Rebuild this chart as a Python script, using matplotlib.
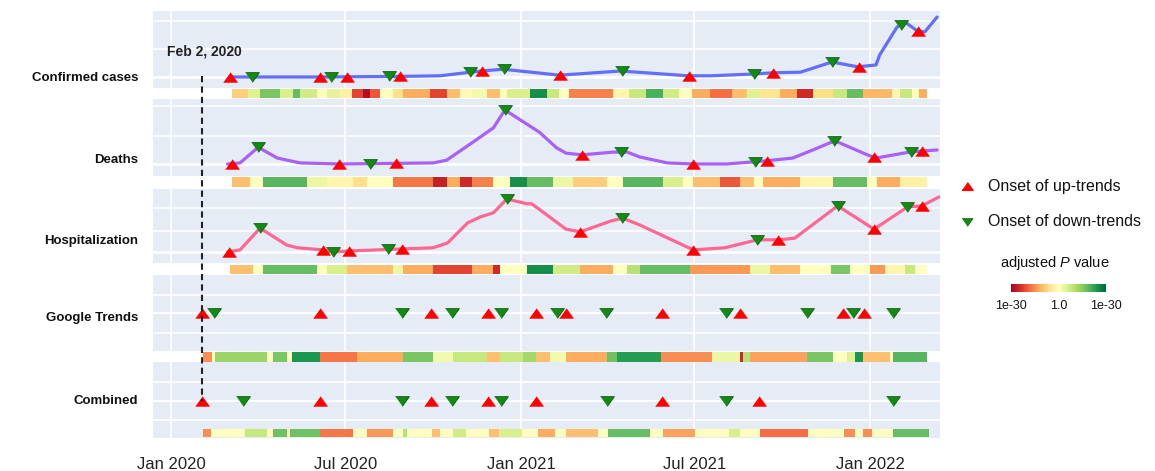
import numpy as np
import pandas as pd
import matplotlib
matplotlib.use("Agg")
import matplotlib.pyplot as plt
import matplotlib.dates as mdates
from matplotlib.lines import Line2D
from matplotlib.transforms import blended_transform_factory
from matplotlib.cm import ScalarMappable
from matplotlib.colors import Normalize

plt.rcParams['font.family'] = ['Liberation Sans', 'DejaVu Sans']
plt.rcParams['mathtext.fontset'] = 'custom'
plt.rcParams['mathtext.rm'] = 'Liberation Sans'
plt.rcParams['mathtext.it'] = 'Liberation Sans:italic'

# ---- data (values normalised to each series' peak) ----
conf_dates = ['2020-03-02', '2020-06-05', '2020-08-27', '2020-10-08', '2020-11-09', '2020-11-21',
              '2020-12-13', '2021-02-10', '2021-04-15', '2021-06-25', '2021-07-18', '2021-09-01',
              '2021-09-21', '2021-10-20', '2021-11-22', '2021-12-19', '2022-01-07', '2022-01-11',
              '2022-01-29', '2022-02-06', '2022-02-19', '2022-02-27', '2022-03-12']
conf_vals = [0.0, 0.0, 0.01, 0.02, 0.08, 0.10, 0.13, 0.03, 0.10, 0.02, 0.02, 0.05,
             0.07, 0.08, 0.25, 0.17, 0.20, 0.37, 0.83, 0.92, 0.77, 0.75, 1.0]

deaths_dates = ['2020-02-29', '2020-03-13', '2020-04-01', '2020-04-21', '2020-05-15', '2020-06-26',
                '2020-10-01', '2020-10-15', '2020-11-12', '2020-12-03', '2020-12-15', '2021-01-20',
                '2021-02-07', '2021-02-17', '2021-03-06', '2021-04-07', '2021-04-22', '2021-05-05',
                '2021-06-03', '2021-06-30', '2021-08-04', '2021-09-15', '2021-10-12', '2021-11-02',
                '2021-11-25', '2021-12-29', '2022-01-07', '2022-02-11', '2022-02-24', '2022-03-12']
deaths_vals = [0.0, 0.02, 0.31, 0.11, 0.02, 0.0, 0.02, 0.07, 0.41, 0.67, 1.0, 0.59,
               0.30, 0.20, 0.17, 0.22, 0.22, 0.13, 0.02, 0.0, 0.0, 0.06, 0.11, 0.26,
               0.43, 0.17, 0.11, 0.22, 0.24, 0.26]

hosp_dates = ['2020-02-29', '2020-03-13', '2020-04-03', '2020-05-01', '2020-05-12', '2020-06-08',
              '2020-06-18', '2020-07-06', '2020-10-01', '2020-10-16', '2020-11-06', '2020-11-19',
              '2020-12-03', '2020-12-17', '2021-01-07', '2021-01-12', '2021-02-17', '2021-03-04',
              '2021-04-04', '2021-04-17', '2021-05-05', '2021-06-30', '2021-08-02', '2021-09-05',
              '2021-09-27', '2021-10-14', '2021-11-28', '2022-01-05', '2022-02-09', '2022-02-24',
              '2022-03-14']
hosp_vals = [0.0, 0.04, 0.45, 0.13, 0.08, 0.04, 0.0, 0.02, 0.08, 0.17, 0.55, 0.66,
             0.74, 1.0, 0.91, 0.91, 0.43, 0.38, 0.58, 0.64, 0.51, 0.04, 0.08, 0.23,
             0.23, 0.26, 0.87, 0.43, 0.85, 0.87, 1.04]

# onsets of up / down trends
conf_up = ['2020-03-02', '2020-06-05', '2020-07-03', '2020-08-27', '2020-11-21', '2021-02-11',
           '2021-06-25', '2021-09-21', '2021-12-20', '2022-02-20']
conf_down = ['2020-03-26', '2020-06-16', '2020-08-16', '2020-11-09', '2020-12-14', '2021-04-16',
             '2021-09-01', '2021-11-22', '2022-02-02']
deaths_up = ['2020-03-05', '2020-06-24', '2020-08-23', '2021-03-06', '2021-06-30', '2021-09-15',
             '2022-01-05', '2022-02-24']
deaths_down = ['2020-04-01', '2020-07-27', '2020-12-15', '2021-04-15', '2021-09-03', '2021-11-24',
               '2022-02-13']
hosp_up = ['2020-03-01', '2020-06-08', '2020-07-05', '2020-08-29', '2021-03-04', '2021-06-30',
           '2021-09-27', '2022-01-05', '2022-02-24']
hosp_down = ['2020-04-03', '2020-06-18', '2020-08-15', '2020-12-17', '2021-04-16', '2021-09-05',
             '2021-11-28', '2022-02-09']
google_up = ['2020-02-02', '2020-06-05', '2020-09-29', '2020-11-27', '2021-01-17', '2021-02-17',
             '2021-05-28', '2021-08-18', '2021-12-04', '2021-12-26']
google_down = ['2020-02-15', '2020-08-29', '2020-10-21', '2020-12-11', '2021-02-08', '2021-03-31',
               '2021-08-03', '2021-10-27', '2021-12-14', '2022-01-25']
comb_up = ['2020-02-02', '2020-06-05', '2020-09-29', '2020-11-27', '2021-01-17', '2021-05-28',
           '2021-09-07']
comb_down = ['2020-03-16', '2020-08-29', '2020-10-21', '2020-12-11', '2021-04-01', '2021-08-03',
             '2022-01-25']

# signed -log10(adjusted P) strips: segment start dates, value; last date = end
conf_strip_dates = ['2020-03-05', '2020-03-21', '2020-04-03', '2020-04-24', '2020-05-07', '2020-05-15',
                    '2020-06-02', '2020-06-12', '2020-06-26', '2020-07-08', '2020-07-20', '2020-07-27',
                    '2020-08-06', '2020-08-20', '2020-08-30', '2020-09-28', '2020-10-15', '2020-10-29',
                    '2020-11-11', '2020-11-26', '2020-12-10', '2020-12-17', '2021-01-10', '2021-01-28',
                    '2021-02-10', '2021-02-20', '2021-04-07', '2021-04-24', '2021-05-12', '2021-05-29',
                    '2021-06-15', '2021-06-29', '2021-07-17', '2021-08-10', '2021-08-25', '2021-09-08',
                    '2021-09-29', '2021-10-16', '2021-11-02', '2021-11-23', '2021-12-08', '2021-12-24',
                    '2022-01-24', '2022-02-01', '2022-02-14', '2022-02-21', '2022-03-01']
conf_strip_vals = [-8, 5, 16, 6, 18, 7, 0, 4, -3, -22, -28, -20, 0, -6, -12, -22, -10, -1, 2, -10,
                   0, 6, 25, 8, 0, -16, -2, 8, 20, 7, 0, -12, -18, -10, 5, -5, -12, -25, -6, 8,
                   18, -11, -2, 8, 0, -12]

deaths_strip_dates = ['2020-03-05', '2020-03-23', '2020-04-06', '2020-05-22', '2020-06-12', '2020-07-09',
                      '2020-07-24', '2020-08-20', '2020-10-01', '2020-10-15', '2020-10-29', '2020-11-11',
                      '2020-12-03', '2020-12-20', '2021-01-07', '2021-02-03', '2021-02-24', '2021-04-01',
                      '2021-04-18', '2021-05-29', '2021-06-19', '2021-06-30', '2021-07-28', '2021-08-18',
                      '2021-09-01', '2021-09-11', '2021-10-20', '2021-11-23', '2021-12-29', '2022-01-08',
                      '2022-02-01', '2022-03-01']
deaths_strip_vals = [-10, 0, 19, 3, -2, -6, 0, -17, -26, -12, -25, -16, 0, 25, 18, 3, -8, 0, 19, 6,
                     0, -10, -20, -10, 0, -12, -2, 18, 0, -12, -3]

hosp_strip_dates = ['2020-03-03', '2020-03-27', '2020-04-06', '2020-06-02', '2020-06-12', '2020-07-03',
                    '2020-08-20', '2020-08-30', '2020-10-01', '2020-11-11', '2020-12-03', '2020-12-10',
                    '2021-01-07', '2021-02-03', '2021-03-04', '2021-04-07', '2021-04-22', '2021-05-05',
                    '2021-06-27', '2021-08-28', '2021-09-18', '2021-10-20', '2021-11-21', '2021-12-11',
                    '2022-01-01', '2022-01-16', '2022-02-06', '2022-02-17', '2022-03-01']
hosp_strip_vals = [-10, 0, 18, 0, 6, -10, 3, -12, -22, -12, -25, 0, 25, 7, -12, 0, 10, 18, -14, 3,
                   -10, 0, 16, 0, -14, -2, 8, 0]

google_strip_dates = ['2020-02-03', '2020-02-13', '2020-02-16', '2020-04-10', '2020-04-16', '2020-05-01',
                      '2020-05-06', '2020-06-05', '2020-07-13', '2020-08-30', '2020-10-01', '2020-10-22',
                      '2020-11-26', '2020-12-10', '2021-01-03', '2021-01-17', '2021-01-31', '2021-02-17',
                      '2021-04-01', '2021-04-11', '2021-05-27', '2021-07-20', '2021-08-18', '2021-08-21',
                      '2021-08-28', '2021-10-27', '2021-11-23', '2021-12-08', '2021-12-16', '2021-12-24',
                      '2022-01-22', '2022-01-25', '2022-03-01']
google_strip_vals = [-15, 0, 13, 0, 16, 0, 24, -17, -12, 16, 2, 8, -10, 8, 12, -10, 2, -12, 17, 23,
                     -15, 3, -25, 10, -13, 16, 0, 5, 24, -10, 0, 19]

comb_strip_dates = ['2020-02-03', '2020-02-12', '2020-03-18', '2020-04-10', '2020-04-17', '2020-05-01',
                    '2020-05-04', '2020-06-05', '2020-07-09', '2020-07-24', '2020-08-20', '2020-08-30',
                    '2020-09-04', '2020-09-30', '2020-10-08', '2020-10-22', '2020-11-04', '2020-11-28',
                    '2020-12-09', '2021-01-02', '2021-01-19', '2021-02-05', '2021-02-17', '2021-03-22',
                    '2021-04-02', '2021-05-16', '2021-05-29', '2021-07-02', '2021-08-06', '2021-08-18',
                    '2021-09-08', '2021-10-28', '2021-12-05', '2021-12-16', '2021-12-24', '2022-01-03',
                    '2022-01-25', '2022-03-03']
comb_strip_vals = [-15, 0, 8, 0, 17, 0, 17, -17, 0, -14, 0, 10, 0, -10, 0, 7, 0, -10, 6, 0,
                   -12, 0, -10, 0, 18, 0, -13, 0, 6, 0, -18, 0, -15, 0, -15, 0, 18]

row_labels = ['Confirmed cases', 'Deaths', 'Hospitalization', 'Google Trends', 'Combined']
xtick_dates = ['2020-01-01', '2020-07-01', '2021-01-01', '2021-07-01', '2022-01-01']
xtick_labels = ['Jan 2020', 'Jul 2020', 'Jan 2021', 'Jul 2021', 'Jan 2022']


def dn(d):
    return mdates.date2num(pd.to_datetime(d))


W, H = 1155, 471
fig = plt.figure(figsize=(W / 100, H / 100), dpi=100)

BG = '#E5ECF6'
UP_C, DOWN_C, DOWN_EDGE = '#FF0000', '#138A13', '#0B5C0B'
up_marker = [(-1, -0.7), (1, -0.7), (0, 0.7)]
down_marker = [(-1, 0.7), (1, 0.7), (0, -0.7)]
x0, x1 = dn('2019-12-13'), dn('2022-03-15')
norm = Normalize(-30, 30)

# layout in pixels: top, bottom, zero line, px per unit, gridlines, white band, strip
panels = [
    dict(top=11, bot=99, zero=77, unit=60, grid=[21, 49], band=(88, 99), strip=(89, 98),
         line=(conf_dates, conf_vals, '#636EFA'), up=conf_up, down=conf_down,
         sd=conf_strip_dates, sv=conf_strip_vals, ly=78),
    dict(top=99, bot=189, zero=164, unit=54, grid=[106, 136], band=(176, 189), strip=(177, 187),
         line=(deaths_dates, deaths_vals, '#A860F5'), up=deaths_up, down=deaths_down,
         sd=deaths_strip_dates, sv=deaths_strip_vals, ly=160),
    dict(top=189, bot=275, zero=252, unit=53, grid=[208, 231], band=(263, 275), strip=(265, 274),
         line=(hosp_dates, hosp_vals, '#FF6692'), up=hosp_up, down=hosp_down,
         sd=hosp_strip_dates, sv=hosp_strip_vals, ly=241),
    dict(top=275, bot=362, zero=313, unit=20, grid=[295, 333], band=(351, 362), strip=(352, 362),
         line=None, up=google_up, down=google_down,
         sd=google_strip_dates, sv=google_strip_vals, ly=318),
    dict(top=362, bot=438, zero=401, unit=20, grid=[382, 420], band=None, strip=(429, 437),
         line=None, up=comb_up, down=comb_down,
         sd=comb_strip_dates, sv=comb_strip_vals, ly=401),
]

axes = []
for i, p in enumerate(panels):
    ax = fig.add_axes([153 / W, 1 - p['bot'] / H, (940 - 153) / W, (p['bot'] - p['top']) / H])
    to_y = lambda px, p=p: (p['zero'] - px) / p['unit']
    ax.set_facecolor(BG)
    ax.set_xlim(x0, x1)
    ax.set_ylim(to_y(p['bot']), to_y(p['top']))
    for s in ax.spines.values():
        s.set_visible(False)
    ax.set_yticks([])
    ax.tick_params(axis='x', length=0, labelbottom=False)
    ax.set_xticks([dn(d) for d in xtick_dates])
    for g in p['grid']:
        ax.axhline(to_y(g), color='white', lw=1.2, zorder=0.5)
    ax.axhline(0, color='white', lw=2.0 if p['line'] else 1.3, zorder=0.5)
    for d in xtick_dates:
        ax.axvline(dn(d), color='white', lw=1.2, zorder=0.5)
    if p['band']:
        ax.axhspan(to_y(p['band'][1]), to_y(p['band'][0]), color='white', lw=0, zorder=0.8)
    edges = dn(p['sd'])
    ax.pcolormesh(edges, [to_y(p['strip'][1]), to_y(p['strip'][0])], np.array(p['sv'])[None, :],
                  cmap='RdYlGn', norm=norm, zorder=1)
    if p['line']:
        ld, lv, lc = p['line']
        lx = dn(ld)
        ax.plot(lx, lv, color=lc, lw=2.3, zorder=2, solid_capstyle='round')
        uy = np.interp(dn(p['up']), lx, lv)
        dy = np.interp(dn(p['down']), lx, lv)
    else:
        uy = np.zeros(len(p['up']))
        dy = np.zeros(len(p['down']))
    ax.plot(dn(p['down']), dy, ls='none', marker=down_marker, ms=10, color=DOWN_C,
            mec=DOWN_EDGE, mew=0.6, zorder=3)
    ax.plot(dn(p['up']), uy, ls='none', marker=up_marker, ms=10, color=UP_C,
            mec=UP_C, mew=0.4, zorder=4)
    fig.text(138 / W, 1 - p['ly'] / H, row_labels[i], ha='right', va='center',
             fontsize=9.5, fontweight='bold', color='#111111')
    axes.append(ax)

# bottom date axis
axes[-1].tick_params(axis='x', labelbottom=True, labelsize=12, pad=14, labelcolor='#222222')
axes[-1].set_xticklabels(xtick_labels)

# dashed marker for Feb 2, 2020
tr = blended_transform_factory(axes[-1].transData, fig.transFigure)
fig.add_artist(Line2D([dn('2020-02-02')] * 2, [1 - 76 / H, 1 - 401 / H], transform=tr,
                      color='#222222', lw=1.5, ls=(0, (3, 2)), zorder=2.5))
fig.text(167 / W, 1 - 52 / H, 'Feb 2, 2020', ha='left', va='center', fontsize=10,
         fontweight='bold', color='#222222')

# legend
fig.add_artist(Line2D([967 / W], [1 - 186 / H], transform=fig.transFigure, ls='none',
                      marker=up_marker, ms=8, color=UP_C))
fig.add_artist(Line2D([967 / W], [1 - 222 / H], transform=fig.transFigure, ls='none',
                      marker=down_marker, ms=8, color=DOWN_C, mec=DOWN_EDGE, mew=0.5))
fig.text(988 / W, 1 - 186 / H, 'Onset of up-trends', ha='left', va='center', fontsize=11.5,
         color='#111111')
fig.text(988 / W, 1 - 222 / H, 'Onset of down-trends', ha='left', va='center', fontsize=11.5,
         color='#111111')
fig.text(1055 / W, 1 - 263 / H, r'adjusted $\it{P}$ value', ha='center', va='center',
         fontsize=10.5, color='#111111')

cax = fig.add_axes([1011 / W, 1 - 292 / H, 95 / W, 8 / H])
cb = fig.colorbar(ScalarMappable(norm=norm, cmap='RdYlGn'), cax=cax, orientation='horizontal')
cb.outline.set_visible(False)
cb.set_ticks([-30, 0, 30])
cb.set_ticklabels(['1e-30', '1.0', '1e-30'])
cax.tick_params(length=0, labelsize=9, pad=6, labelcolor='#111111')

fig.savefig('out.png', dpi=100)
